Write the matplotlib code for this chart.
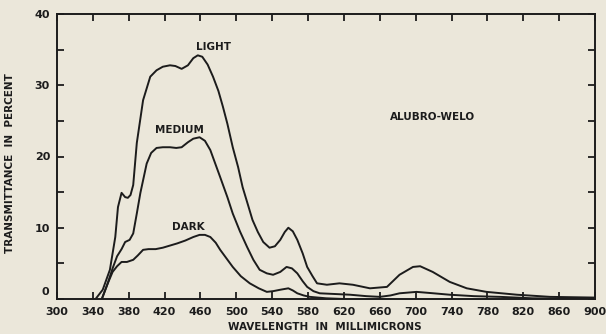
import matplotlib
matplotlib.use("Agg")
import matplotlib.pyplot as plt
import numpy as np

# values
light_x = [343, 351, 359, 365, 368, 372, 376, 379, 382, 385, 389, 396, 404, 411, 418, 426,
           432, 439, 446, 452, 457, 462, 468, 474, 480, 485, 490, 496, 502, 507, 513, 518,
           524, 530, 537, 543, 549, 554, 558, 563, 568, 574, 579, 585, 590, 601, 615, 630,
           649, 668, 682, 697, 705, 719, 738, 757, 779, 813, 850, 900]
light_y = [0, 1.3, 4.1, 8.7, 12.9, 14.9, 14.3, 14.2, 14.6, 16, 21.9, 27.9, 31.2, 32.1, 32.6, 32.8,
           32.7, 32.3, 32.8, 33.8, 34.2, 34.0, 32.9, 31.2, 29.2, 27, 24.6, 21.3, 18.5, 15.7, 13.2, 11.1,
           9.4, 8.0, 7.2, 7.4, 8.3, 9.4, 10.0, 9.5, 8.3, 6.4, 4.5, 3.2, 2.2, 2.0, 2.2, 2.0,
           1.5, 1.7, 3.4, 4.5, 4.6, 3.8, 2.4, 1.5, 1.0, 0.6, 0.3, 0.2]

medium_x = [350, 356, 362, 367, 372, 376, 381, 385, 389, 393, 400, 405, 411, 418, 426, 433,
            439, 446, 452, 459, 465, 471, 482, 490, 496, 504, 512, 519, 526, 534, 541, 549,
            556, 562, 568, 574, 579, 586, 593, 610, 627, 645, 660, 672, 682, 701, 720, 738,
            765, 794, 830, 900]
medium_y = [0, 2.0, 4.3, 6.0, 7.0, 8.0, 8.3, 9.2, 12, 14.9, 19.0, 20.5, 21.2, 21.3, 21.3, 21.2,
            21.3, 22.0, 22.5, 22.7, 22.2, 20.9, 17.1, 14.3, 12.0, 9.5, 7.3, 5.5, 4.1, 3.6, 3.4, 3.8,
            4.5, 4.3, 3.6, 2.5, 1.7, 1.1, 0.8, 0.7, 0.6, 0.4, 0.3, 0.5, 0.8, 1.0, 0.8, 0.6,
            0.4, 0.3, 0.1, 0.0]

dark_x = [350, 356, 362, 367, 372, 378, 385, 390, 396, 402, 410, 418, 426, 434, 443, 452,
          459, 465, 471, 477, 482, 489, 496, 505, 515, 525, 534, 541, 549, 558, 563, 568,
          575, 582, 600, 620]
dark_y = [0, 2.0, 3.8, 4.6, 5.2, 5.2, 5.5, 6.1, 6.9, 7.0, 7.0, 7.2, 7.5, 7.8, 8.2, 8.7,
          9.0, 9.0, 8.7, 7.9, 6.9, 5.7, 4.5, 3.2, 2.2, 1.5, 1.0, 1.1, 1.3, 1.5, 1.2, 0.8,
          0.5, 0.3, 0.1, 0.0]

x_ticks = list(range(300, 901, 40))
y_ticks = [0, 10, 20, 30, 40]
y_labels = ["", "10", "20", "30", "40"]

bg = "#ebe7da"
ink = "#1c1c1c"
plt.rcParams['font.family'] = ['DejaVu Sans']
plt.rcParams['font.weight'] = 'bold'

fig = plt.figure(figsize=(6.06, 3.34), dpi=100, facecolor=bg)
ax = fig.add_axes([57/606, 1-299/334, (595-57)/606, (299-14)/334])
ax.set_facecolor(bg)

for xs, ys in [(light_x, light_y), (medium_x, medium_y), (dark_x, dark_y)]:
    ax.plot(xs, ys, color=ink, lw=1.4, solid_joinstyle='round', solid_capstyle='round')

ax.set_xlim(300, 900)
ax.set_ylim(0, 40)
ax.set_xticks(x_ticks)
ax.set_yticks(y_ticks)
ax.set_yticklabels(y_labels)
ax.set_yticks([5, 15, 25, 35], minor=True)
for s in ax.spines.values():
    s.set_color(ink)
    s.set_linewidth(1.4)
ax.tick_params(which='both', direction='in', length=5, width=1.3, color=ink,
               top=True, right=True, labelsize=8, labelcolor=ink)
ax.tick_params(axis='x', pad=6)
ax.tick_params(axis='y', pad=5)
for lab in ax.get_xticklabels() + ax.get_yticklabels():
    lab.set_fontweight('bold')

# the corner "0" sits a little above the axis in the original
ax.annotate("0", xy=(300, 0), xytext=(-6, 5), textcoords='offset points', fontsize=8,
            fontweight='bold', color=ink, ha='right', va='center', annotation_clip=False)

ax.text(475, 35.4, "LIGHT", fontsize=7.5, fontweight='bold', color=ink, ha='center', va='center')
ax.text(436, 23.7, "MEDIUM", fontsize=7.5, fontweight='bold', color=ink, ha='center', va='center')
ax.text(447, 10.1, "DARK", fontsize=7.5, fontweight='bold', color=ink, ha='center', va='center')
ax.text(719, 25.5, "ALUBRO-WELO", fontsize=7.5, fontweight='bold', color=ink, ha='center', va='center')

fig.text(325/606, 1-327/334, "WAVELENGTH  IN  MILLIMICRONS", fontsize=7.5, fontweight='bold',
         color=ink, ha='center', va='center')
fig.text(10/606, 1-163/334, "TRANSMITTANCE  IN  PERCENT", fontsize=7.5, fontweight='bold',
         color=ink, ha='center', va='center', rotation=90)

fig.savefig("out.png", dpi=100, facecolor=bg)
